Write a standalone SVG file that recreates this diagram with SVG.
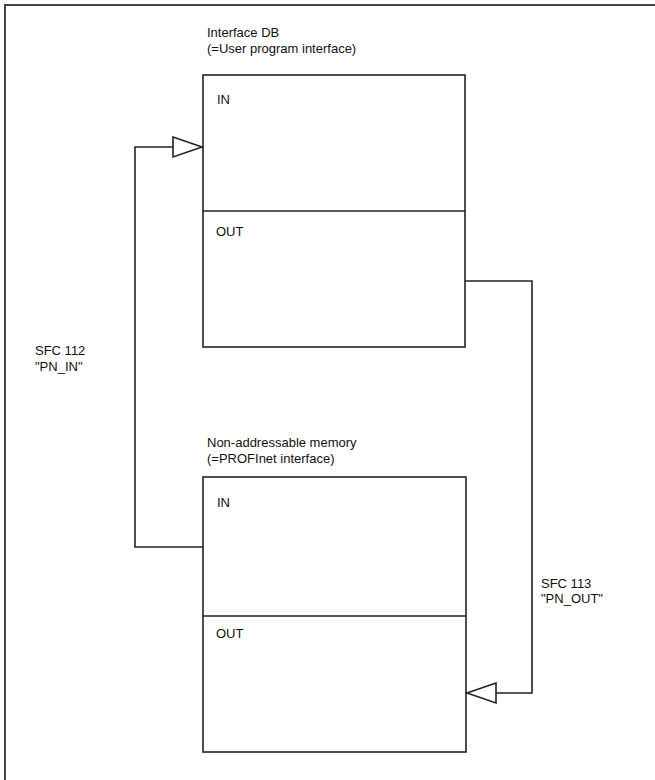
<svg xmlns="http://www.w3.org/2000/svg" width="655" height="780" viewBox="0 0 655 780">
<defs>
<style>
.t{font-family:"Liberation Sans",Arial,sans-serif;font-size:13px;fill:#111}
.box{fill:#fff;stroke:#222;stroke-width:1.6}
.ln{fill:none;stroke:#222;stroke-width:1.6}
.arr{fill:#fff;stroke:#222;stroke-width:1.6;stroke-linejoin:miter}
</style>
</defs>
<rect x="0" y="0" width="655" height="780" fill="#fff"/>
<rect x="5" y="5" width="700" height="820" fill="none" stroke="#444" stroke-width="2"/>
<g id="interface-db">
<text class="t" x="207" y="37">Interface DB</text>
<text class="t" x="207" y="53">(=User program interface)</text>
<rect class="box" x="203" y="75" width="262" height="272"/>
<line class="ln" x1="203" y1="211" x2="465" y2="211"/>
<text class="t" x="217" y="104">IN</text>
<text class="t" x="216" y="236">OUT</text>
</g>
<g id="non-addressable-memory">
<text class="t" x="207" y="447">Non-addressable memory</text>
<text class="t" x="207" y="463">(=PROFInet interface)</text>
<rect class="box" x="203" y="477" width="263" height="275"/>
<line class="ln" x1="203" y1="616" x2="466" y2="616"/>
<text class="t" x="217" y="507">IN</text>
<text class="t" x="216" y="638">OUT</text>
</g>
<g id="connectors">
<polyline class="ln" points="203,547 135,547 135,147 173,147"/>
<polygon class="arr" points="173,137 202,147 173,157"/>
<polyline class="ln" points="465,281 532,281 532,693 496,693"/>
<polygon class="arr" points="496,683 467,693 496,703"/>
<text class="t" x="35" y="355">SFC 112</text>
<text class="t" x="35" y="371">"PN_IN"</text>
<text class="t" x="541" y="588">SFC 113</text>
<text class="t" x="541" y="603">"PN_OUT"</text>
</g>
</svg>
